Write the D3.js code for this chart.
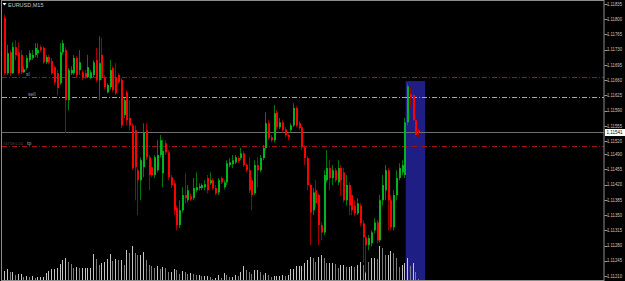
<!DOCTYPE html>
<html>
<head>
<meta charset="utf-8">
<script src="https://cdn.jsdelivr.net/npm/d3@7"></script>
<style>
    body { margin: 0; background: #000; overflow: hidden; }
    svg { display: block; }
</style>
</head>
<body>
<div id="chart"></div>
<script>
var symbol = "EURUSD,M15";

// open, high, low, close per 15 min bar
var ohlc = [
    [1.11803, 1.11810, 1.11672, 1.11676], [1.11676, 1.11741, 1.11672, 1.11722], [1.11724, 1.11729, 1.11669, 1.11676], [1.11676, 1.11747, 1.11674, 1.11736],
    [1.11736, 1.11752, 1.11706, 1.11718], [1.11724, 1.11747, 1.11672, 1.11676], [1.11718, 1.11729, 1.11674, 1.11678], [1.11678, 1.11692, 1.11676, 1.11685],
    [1.11688, 1.11718, 1.11683, 1.11711], [1.11706, 1.11729, 1.11701, 1.11722], [1.11711, 1.11729, 1.11706, 1.11718], [1.11718, 1.11745, 1.11713, 1.11734],
    [1.11722, 1.11745, 1.11711, 1.11729], [1.11736, 1.11741, 1.11724, 1.11729], [1.11734, 1.11738, 1.11697, 1.11701], [1.11701, 1.11718, 1.11697, 1.11713],
    [1.11713, 1.11718, 1.11697, 1.11701], [1.11704, 1.11711, 1.11672, 1.11676], [1.11690, 1.11694, 1.11649, 1.11655], [1.11676, 1.11683, 1.11626, 1.11642],
    [1.11653, 1.11745, 1.11649, 1.11724], [1.11724, 1.11752, 1.11718, 1.11745], [1.11729, 1.11736, 1.11538, 1.11614], [1.11614, 1.11688, 1.11591, 1.11683],
    [1.11676, 1.11692, 1.11672, 1.11683], [1.11676, 1.11718, 1.11672, 1.11711], [1.11711, 1.11715, 1.11667, 1.11672], [1.11683, 1.11729, 1.11672, 1.11701],
    [1.11678, 1.11683, 1.11660, 1.11665], [1.11676, 1.11683, 1.11662, 1.11667], [1.11667, 1.11718, 1.11665, 1.11690], [1.11665, 1.11683, 1.11662, 1.11678],
    [1.11672, 1.11706, 1.11667, 1.11701], [1.11706, 1.11734, 1.11655, 1.11660], [1.11660, 1.11761, 1.11614, 1.11699], [1.11718, 1.11757, 1.11660, 1.11665],
    [1.11667, 1.11672, 1.11639, 1.11644], [1.11632, 1.11653, 1.11630, 1.11649], [1.11644, 1.11706, 1.11639, 1.11683], [1.11688, 1.11692, 1.11632, 1.11637],
    [1.11667, 1.11699, 1.11626, 1.11630], [1.11672, 1.11676, 1.11651, 1.11655], [1.11660, 1.11665, 1.11550, 1.11556], [1.11580, 1.11619, 1.11573, 1.11614],
    [1.11632, 1.11637, 1.11556, 1.11568], [1.11573, 1.11614, 1.11545, 1.11556], [1.11556, 1.11561, 1.11453, 1.11458], [1.11545, 1.11556, 1.11384, 1.11460],
    [1.11453, 1.11458, 1.11350, 1.11430], [1.11430, 1.11483, 1.11384, 1.11476], [1.11460, 1.11561, 1.11437, 1.11540], [1.11545, 1.11561, 1.11476, 1.11483],
    [1.11483, 1.11488, 1.11407, 1.11442], [1.11460, 1.11476, 1.11437, 1.11442], [1.11442, 1.11488, 1.11435, 1.11483], [1.11453, 1.11522, 1.11448, 1.11488],
    [1.11488, 1.11534, 1.11483, 1.11522], [1.11446, 1.11522, 1.11414, 1.11497], [1.11515, 1.11522, 1.11488, 1.11494], [1.11494, 1.11499, 1.11430, 1.11437],
    [1.11437, 1.11442, 1.11412, 1.11419], [1.11423, 1.11430, 1.11350, 1.11361], [1.11366, 1.11372, 1.11315, 1.11327], [1.11327, 1.11384, 1.11320, 1.11361],
    [1.11361, 1.11414, 1.11356, 1.11396], [1.11396, 1.11446, 1.11377, 1.11389], [1.11384, 1.11419, 1.11379, 1.11407], [1.11393, 1.11400, 1.11382, 1.11386],
    [1.11389, 1.11435, 1.11384, 1.11412], [1.11407, 1.11448, 1.11402, 1.11414], [1.11412, 1.11423, 1.11407, 1.11416], [1.11412, 1.11423, 1.11407, 1.11419],
    [1.11414, 1.11430, 1.11407, 1.11421], [1.11435, 1.11442, 1.11400, 1.11407], [1.11423, 1.11448, 1.11419, 1.11430], [1.11430, 1.11435, 1.11407, 1.11412],
    [1.11412, 1.11419, 1.11396, 1.11400], [1.11402, 1.11435, 1.11396, 1.11430], [1.11435, 1.11439, 1.11421, 1.11425], [1.11414, 1.11430, 1.11409, 1.11425],
    [1.11425, 1.11476, 1.11419, 1.11469], [1.11465, 1.11481, 1.11460, 1.11471], [1.11467, 1.11488, 1.11458, 1.11476], [1.11471, 1.11488, 1.11467, 1.11483],
    [1.11481, 1.11485, 1.11469, 1.11474], [1.11481, 1.11504, 1.11476, 1.11492], [1.11492, 1.11497, 1.11460, 1.11465], [1.11465, 1.11469, 1.11448, 1.11453],
    [1.11453, 1.11483, 1.11400, 1.11407], [1.11430, 1.11437, 1.11361, 1.11396], [1.11400, 1.11476, 1.11396, 1.11465], [1.11465, 1.11483, 1.11414, 1.11453],
    [1.11453, 1.11488, 1.11448, 1.11481], [1.11481, 1.11511, 1.11476, 1.11504], [1.11504, 1.11586, 1.11499, 1.11561], [1.11561, 1.11568, 1.11522, 1.11527],
    [1.11529, 1.11534, 1.11517, 1.11522], [1.11522, 1.11603, 1.11517, 1.11584], [1.11586, 1.11591, 1.11545, 1.11552], [1.11552, 1.11573, 1.11547, 1.11563],
    [1.11563, 1.11568, 1.11540, 1.11545], [1.11547, 1.11552, 1.11529, 1.11534], [1.11534, 1.11538, 1.11522, 1.11529], [1.11545, 1.11561, 1.11540, 1.11556],
    [1.11556, 1.11607, 1.11552, 1.11596], [1.11596, 1.11600, 1.11552, 1.11556], [1.11561, 1.11566, 1.11545, 1.11550], [1.11552, 1.11556, 1.11499, 1.11506],
    [1.11506, 1.11511, 1.11465, 1.11481], [1.11481, 1.11485, 1.11407, 1.11419], [1.11419, 1.11423, 1.11281, 1.11356], [1.11361, 1.11412, 1.11350, 1.11402],
    [1.11407, 1.11430, 1.11368, 1.11377], [1.11396, 1.11400, 1.11281, 1.11327], [1.11327, 1.11333, 1.11292, 1.11310], [1.11310, 1.11453, 1.11304, 1.11442],
    [1.11430, 1.11499, 1.11425, 1.11458], [1.11458, 1.11476, 1.11407, 1.11435], [1.11435, 1.11465, 1.11419, 1.11453], [1.11453, 1.11458, 1.11425, 1.11430],
    [1.11425, 1.11476, 1.11419, 1.11458], [1.11458, 1.11465, 1.11396, 1.11430], [1.11448, 1.11458, 1.11379, 1.11384], [1.11384, 1.11442, 1.11372, 1.11419],
    [1.11419, 1.11425, 1.11350, 1.11372], [1.11396, 1.11407, 1.11350, 1.11361], [1.11372, 1.11384, 1.11347, 1.11354], [1.11354, 1.11389, 1.11350, 1.11377],
    [1.11372, 1.11377, 1.11324, 1.11331], [1.11331, 1.11338, 1.11241, 1.11299], [1.11299, 1.11304, 1.11218, 1.11281], [1.11281, 1.11304, 1.11269, 1.11297],
    [1.11285, 1.11315, 1.11278, 1.11310], [1.11315, 1.11343, 1.11308, 1.11333], [1.11333, 1.11338, 1.11285, 1.11292], [1.11292, 1.11396, 1.11287, 1.11384],
    [1.11384, 1.11442, 1.11372, 1.11419], [1.11407, 1.11465, 1.11384, 1.11453], [1.11453, 1.11458, 1.11315, 1.11384], [1.11384, 1.11396, 1.11315, 1.11322],
    [1.11322, 1.11407, 1.11315, 1.11396], [1.11396, 1.11453, 1.11384, 1.11435], [1.11435, 1.11469, 1.11430, 1.11458], [1.11448, 1.11476, 1.11442, 1.11465],
    [1.11442, 1.11573, 1.11435, 1.11563], [1.11563, 1.11653, 1.11556, 1.11646], [1.11628, 1.11642, 1.11598, 1.11621], [1.11626, 1.11637, 1.11563, 1.11568],
    [1.11568, 1.11584, 1.11527, 1.11534], [1.11545, 1.11549, 1.11529, 1.11541]
];

// tick volumes (hundreds)
var volumes = [
    9, 11, 8, 8, 5, 6, 6, 3, 4, 3, 4, 2, 3, 3, 3, 7, 9, 11, 11, 12, 16, 20, 22, 18, 16,
    12, 13, 12, 12, 12, 12, 12, 26, 21, 15, 17, 18, 21, 26, 19, 21, 20, 20, 15, 30, 27, 34, 27, 25, 25,
    28, 20, 15, 14, 12, 14, 11, 13, 12, 8, 8, 11, 10, 6, 9, 8, 6, 7, 6, 5, 5, 4, 4, 4, 3,
    1, 2, 5, 2, 7, 5, 3, 3, 5, 4, 8, 14, 10, 8, 6, 10, 10, 8, 5, 7, 5, 3, 4, 4, 4, 5, 4, 5, 11, 11,
    14, 14, 14, 17, 20, 23, 22, 18, 23, 25, 22, 17, 17, 17, 16, 12, 15, 15, 13, 13, 14, 13, 15, 18, 15,
    23, 18, 22, 22, 21, 34, 32, 25, 25, 29, 27, 22, 13, 15, 17, 22, 14, 17, 8, 1
];

var priceTicks = ["1.11835", "1.11800", "1.11765", "1.11730", "1.11695", "1.11660", "1.11625", "1.11590", "1.11555",
    "1.11520", "1.11490", "1.11455", "1.11420", "1.11385", "1.11350", "1.11315", "1.11280", "1.11245", "1.11210"];

var bidPrice = 1.11541;

// order lines: stop loss, open price, take profit
var levelPrices = [1.11667, 1.11621, 1.11509];
var levelKinds = ["sl", "sell", "tp"];

// rectangle object: first bar, last bar, top price, bottom price
var boxBars = [145, 152];
var boxPrices = [1.11658, 1.11150];

var W = 625, H = 281;
var plot = { left: 2, right: 604, top: 0, bottom: 280 };

var svg = d3.select("#chart").append("svg")
    .attr("width", W)
    .attr("height", H)
    .style("background", "#000")
    .style("font-family", "'Liberation Sans', Arial, sans-serif");

var n = Math.min(ohlc.length, volumes.length);

var x = d3.scaleBand()
    .domain(d3.range(n))
    .range([2.6, 2.6 + 2.78 * n]);

var xi = d3.scaleLinear()
    .domain([0, n])
    .range([2.6, 2.6 + 2.78 * n]);

var y = d3.scaleLinear()
    .domain([1.11210, 1.11835])
    .range([276, 4]);

var vy = d3.scaleLinear()
    .domain([0, 34])
    .range([plot.bottom, plot.bottom - 34]);

svg.append("clipPath").attr("id", "plotclip")
    .append("rect")
    .attr("x", plot.left)
    .attr("y", plot.top)
    .attr("width", plot.right - plot.left)
    .attr("height", plot.bottom - plot.top);

var g = svg.append("g").attr("clip-path", "url(#plotclip)");

// rectangle behind the bars
g.append("rect")
    .attr("x", xi(boxBars[0]))
    .attr("y", y(boxPrices[0]))
    .attr("width", xi(boxBars[1]) - xi(boxBars[0]))
    .attr("height", y(boxPrices[1]) - y(boxPrices[0]))
    .attr("fill", "#1e1e84");

// volumes
var vols = volumes.slice(0, n);
g.selectAll(".vol")
    .data(vols)
    .enter()
    .append("rect")
    .attr("class", "vol")
    .attr("x", function (d, i) {
        return Math.round(x(i) + x.bandwidth() / 2);
    })
    .attr("y", function (d) {
        return vy(d);
    })
    .attr("width", 1)
    .attr("height", function (d) {
        return plot.bottom - vy(d);
    })
    .attr("fill", function (d, i) {
        return (i > 0 && d < vols[i - 1]) ? "#7c7c7c" : "#c4c4c4";
    })
    .attr("shape-rendering", "crispEdges");

// level lines
var levelColor = { sl: "#a01414", sell: "#a8a8a8", tp: "#a01414" };
g.selectAll(".level")
    .data(levelPrices)
    .enter()
    .append("line")
    .attr("class", "level")
    .attr("x1", plot.left)
    .attr("x2", plot.right)
    .attr("y1", function (d) { return Math.round(y(d)) + 0.5; })
    .attr("y2", function (d) { return Math.round(y(d)) + 0.5; })
    .attr("stroke", function (d, i) { return levelColor[levelKinds[i]]; })
    .attr("stroke-width", 1)
    .attr("stroke-dasharray", "5,2,1,2");

var labelX = { sl: 26, sell: 28, tp: 27 };
g.selectAll(".levelLabel")
    .data(levelPrices)
    .enter()
    .append("text")
    .attr("class", "levelLabel")
    .attr("x", function (d, i) { return labelX[levelKinds[i]]; })
    .attr("y", function (d) { return Math.round(y(d)) - 1; })
    .attr("fill", "#a0a0a0")
    .style("font-size", "5px")
    .text(function (d, i) { return levelKinds[i]; });

g.append("text")
    .attr("x", 3)
    .attr("y", Math.round(y(levelPrices[2])) - 1)
    .attr("fill", "#505050")
    .style("font-size", "4px")
    .text("#4718 0.10");

// bid line
g.append("line")
    .attr("x1", plot.left)
    .attr("x2", plot.right)
    .attr("y1", Math.round(y(bidPrice)) + 0.5)
    .attr("y2", Math.round(y(bidPrice)) + 0.5)
    .attr("stroke", "#6e6e6e")
    .attr("stroke-width", 1);

// candles
var candle = g.selectAll(".candle")
    .data(ohlc.slice(0, n))
    .enter()
    .append("g")
    .attr("class", "candle");

candle.append("line")
    .attr("x1", function (d, i) { return Math.round(x(i) + x.bandwidth() / 2) + 0.5; })
    .attr("x2", function (d, i) { return Math.round(x(i) + x.bandwidth() / 2) + 0.5; })
    .attr("y1", function (d) { return y(d[1]); })
    .attr("y2", function (d) { return y(d[2]); })
    .attr("stroke", function (d) {
        return d[3] >= d[0] ? "#00780a" : "#a00000";
    })
    .attr("stroke-width", 1);

candle.append("rect")
    .attr("x", function (d, i) { return Math.round(x(i) + x.bandwidth() / 2); })
    .attr("y", function (d) { return y(Math.max(d[0], d[3])); })
    .attr("width", 2)
    .attr("height", function (d) {
        return Math.max(1, Math.abs(y(d[0]) - y(d[3])));
    })
    .attr("fill", function (d) {
        return d[3] >= d[0] ? "#00b41e" : "#ff0000";
    });

// frame
svg.append("rect")
    .attr("x", 1.5)
    .attr("y", 0.5)
    .attr("width", plot.right - 1.5)
    .attr("height", plot.bottom)
    .attr("fill", "none")
    .attr("stroke", "#8c8c8c")
    .attr("stroke-width", 1);

// price scale
var ticks = svg.append("g");
ticks.selectAll("line")
    .data(priceTicks)
    .enter()
    .append("line")
    .attr("x1", plot.right + 0.5)
    .attr("x2", plot.right + 3.5)
    .attr("y1", function (d) { return Math.round(y(+d)) + 0.5; })
    .attr("y2", function (d) { return Math.round(y(+d)) + 0.5; })
    .attr("stroke", "#9a9a9a");

ticks.selectAll("text")
    .data(priceTicks)
    .enter()
    .append("text")
    .attr("x", 607)
    .attr("y", function (d) { return y(+d); })
    .attr("dy", "0.35em")
    .attr("fill", "#c8c8c8")
    .attr("textLength", 15)
    .attr("lengthAdjust", "spacingAndGlyphs")
    .style("font-size", "4.9px")
    .text(function (d) { return d; });

// current bid box
var by = Math.round(y(bidPrice));
svg.append("rect")
    .attr("x", plot.right + 1)
    .attr("y", by - 3)
    .attr("width", 20)
    .attr("height", 7)
    .attr("fill", "#ffffff");
svg.append("text")
    .attr("x", 606.5)
    .attr("y", by + 0.5)
    .attr("dy", "0.35em")
    .attr("fill", "#000000")
    .attr("textLength", 16)
    .attr("lengthAdjust", "spacingAndGlyphs")
    .style("font-size", "4.9px")
    .text(d3.format(".5f")(bidPrice));

// title
svg.append("path")
    .attr("d", "M2.5,3 L6.5,3 L4.5,5.5 Z")
    .attr("fill", "#ffffff");
svg.append("text")
    .attr("x", 8)
    .attr("y", 6.5)
    .attr("fill", "#c8c8c8")
    .style("font-size", "5.5px")
    .text(symbol);
</script>
</body>
</html>
